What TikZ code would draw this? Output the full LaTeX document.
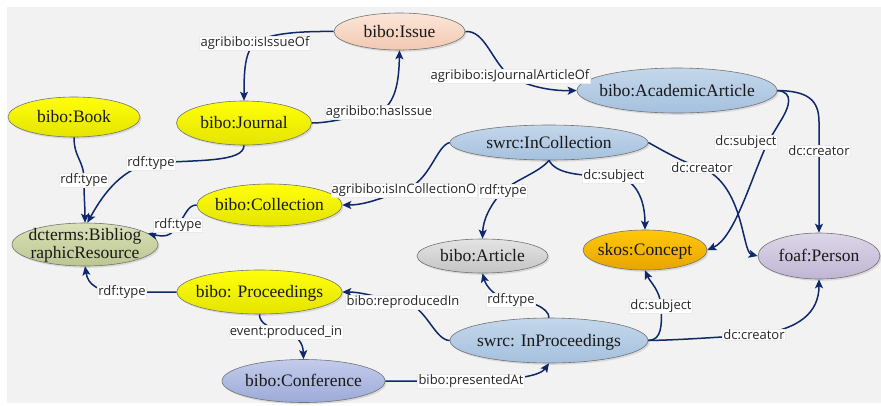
\documentclass[tikz,border=0pt]{standalone}
\usepackage{fontspec}
\setmainfont{Liberation Serif}
\newfontfamily\lblfont{Open Sans}
\usetikzlibrary{arrows.meta,shapes.geometric,shadows}
\definecolor{edgec}{RGB}{14,40,105}
\definecolor{bgc}{RGB}{242,242,242}
\definecolor{peachT}{RGB}{252,230,216}\definecolor{peachB}{RGB}{242,200,178}
\definecolor{yelT}{RGB}{255,255,10}\definecolor{yelB}{RGB}{228,228,0}
\definecolor{blueT}{RGB}{196,215,235}\definecolor{blueB}{RGB}{165,193,222}
\definecolor{oliveT}{RGB}{218,225,185}\definecolor{oliveB}{RGB}{188,198,145}
\definecolor{grayT}{RGB}{228,228,228}\definecolor{grayB}{RGB}{196,196,196}
\definecolor{orT}{RGB}{255,200,10}\definecolor{orB}{RGB}{232,165,0}
\definecolor{lavT}{RGB}{220,214,232}\definecolor{lavB}{RGB}{192,182,212}
\definecolor{perT}{RGB}{196,204,236}\definecolor{perB}{RGB}{156,170,215}
\newcommand\ctr[1]{\smash{\makebox[0pt]{\raisebox{-0.33em}{#1}}}}
\begin{document}
\begin{tikzpicture}[x=1pt,y=-1pt,
  ent/.style={ellipse, draw=black!55, line width=0.6pt, inner sep=0pt,
    font=\fontsize{17.5}{18}\selectfont, text=black!90,
    drop shadow={shadow xshift=1.5pt, shadow yshift=-1.8pt, opacity=0.22}},
  peach/.style={top color=peachT, bottom color=peachB},
  yel/.style={top color=yelT, bottom color=yelB},
  blu/.style={top color=blueT, bottom color=blueB},
  oli/.style={top color=oliveT, bottom color=oliveB},
  gry/.style={top color=grayT, bottom color=grayB},
  ora/.style={top color=orT, bottom color=orB},
  lav/.style={top color=lavT, bottom color=lavB},
  per/.style={top color=perT, bottom color=perB},
  lbl/.style={fill=white, draw=black!8, line width=0.3pt, inner xsep=1pt, inner ysep=0.5pt,
    font=\lblfont\fontsize{13}{13}\selectfont, text=black!85},
  rel/.style={draw=edgec, line width=1.5pt, -{Stealth[length=9pt,width=8pt,inset=2pt]}},
]
\useasboundingbox (0,0) rectangle (881,405);
\fill[white] (0,0) rectangle (881,405);
\fill[bgc] (7,7) rectangle (881,403);

% nodes
\node[ent, peach, minimum width=131pt, minimum height=37pt] (issue) at (399.5,31.5) {\ctr{bibo:Issue}};
\node[ent, yel, minimum width=132pt, minimum height=40pt] (book) at (74,117) {\ctr{bibo:Book}};
\node[ent, yel, minimum width=135pt, minimum height=44pt] (journal) at (244,123) {\ctr{bibo:Journal}};
\node[ent, blu, minimum width=200pt, minimum height=45pt] (aa) at (677,90.5) {\ctr{bibo:AcademicArticle}};
\node[ent, blu, minimum width=198pt, minimum height=35pt] (incoll) at (549,142.5) {\ctr{swrc:InCollection}};
\node[ent, yel, minimum width=145pt, minimum height=42pt] (coll) at (269.5,205) {\ctr{bibo:Collection}};
\node[ent, oli, minimum width=146pt, minimum height=43pt] (bibres) at (85,244.5)
  {\ctr{\begin{tabular}{@{}c@{}}dcterms:Bibliog\\raphicResource\end{tabular}}};
\node[ent, gry, minimum width=131pt, minimum height=34pt] (article) at (482.5,256) {\ctr{bibo:Article}};
\node[ent, ora, minimum width=124pt, minimum height=40pt] (concept) at (645,250) {\ctr{skos:Concept}};
\node[ent, lav, minimum width=122pt, minimum height=46pt] (person) at (819,256) {\ctr{foaf:Person}};
\node[ent, yel, minimum width=165pt, minimum height=44pt] (proc) at (259.5,292) {\ctr{bibo: Proceedings}};
\node[ent, blu, minimum width=198pt, minimum height=45pt] (inproc) at (549,340.5) {\ctr{swrc: InProceedings}};
\node[ent, per, minimum width=163pt, minimum height=43pt] (conf) at (303.5,381) {\ctr{bibo:Conference}};

% connectors
\draw[rel] (issue.west) .. controls (290,31) and (266,35) .. (255,43) node[lbl]{agribibo:isIssueOf}
  .. controls (245,52) and (244,70) .. (journal.north);
\draw[rel] (journal.east) .. controls (330,123) and (350,117) .. (379,112) node[lbl]{agribibo:hasIssue}
  .. controls (396,104) and (399,80) .. (issue.south);
\draw[rel] (issue.east) .. controls (485,30) and (492,62) .. (510,76) node[lbl]{agribibo:isJournalArticleOf}
  .. controls (530,88) and (555,91) .. (aa.west);
\draw[rel] (book.south) .. controls (74,158) and (84,160) .. (84,180) node[lbl]{rdf:type}
  .. controls (84,200) and (85,205) .. (bibres.north);
\draw[rel] (journal.south) .. controls (244,162) and (200,160) .. (151,163) node[lbl]{rdf:type}
  .. controls (118,170) and (100,200) .. (bibres.84);
\draw[rel] (coll.west) .. controls (188,205) and (186,214) .. (178,225) node[lbl]{rdf:type}
  .. controls (172,234) and (168,238) .. (bibres.10);
\draw[rel] (proc.west) -- (122,292) node[lbl]{rdf:type}
  .. controls (98,292) and (88,285) .. (bibres.south);
\draw[rel] (incoll.west) .. controls (436,146) and (430,182) .. (404,190) node[lbl]{agribibo:isInCollectionO}
  .. controls (382,198) and (365,205) .. (coll.east);
\draw[rel] (incoll.south) .. controls (540,172) and (515,180) .. (503,191) node[lbl]{rdf:type}
  .. controls (490,205) and (483,220) .. (article.north);
\draw[rel] (incoll.south) .. controls (556,174) and (580,176) .. (614,176) node[lbl]{dc:subject}
  .. controls (636,178) and (645,200) .. (concept.north);
\draw[rel] (incoll.east) .. controls (662,150) and (682,162) .. (702,168) node[lbl]{dc:creator}
  .. controls (744,185) and (742,252) .. (person.west);
\draw[rel] (aa.east) .. controls (794,92) and (790,106) .. (780,122)
  -- (768,142) node[lbl, xshift=-22pt]{dc:subject}
  .. controls (752,175) and (735,238) .. (concept.east);
\draw[rel] (aa.east) .. controls (808,91) and (819,100) .. (819,122)
  -- (819,151) node[lbl]{dc:creator} -- (person.north);
\draw[rel] (proc.south) .. controls (259,323) and (270,329) .. (286,332) node[lbl]{event:produced\_in}
  .. controls (297,336) and (303,342) .. (conf.north);
\draw[rel] (inproc.west) .. controls (434,340) and (426,305) .. (403,302) node[lbl]{bibo:reproducedIn}
  .. controls (380,298) and (362,292) .. (proc.east);
\draw[rel] (inproc.north) .. controls (549,308) and (530,300) .. (511,300) node[lbl]{rdf:type}
  .. controls (495,298) and (486,286) .. (article.south);
\draw[rel] (inproc.east) .. controls (662,340) and (662,325) .. (661,306) node[lbl]{dc:subject}
  .. controls (660,290) and (650,282) .. (concept.south);
\draw[rel] (inproc.east) .. controls (680,340) and (720,337) .. (754,335) node[lbl]{dc:creator}
  .. controls (800,330) and (819,312) .. (person.south);
\draw[rel] (conf.east) -- (471,381) node[lbl]{bibo:presentedAt}
  .. controls (515,380) and (540,376) .. (inproc.south);
\end{tikzpicture}
\end{document}
